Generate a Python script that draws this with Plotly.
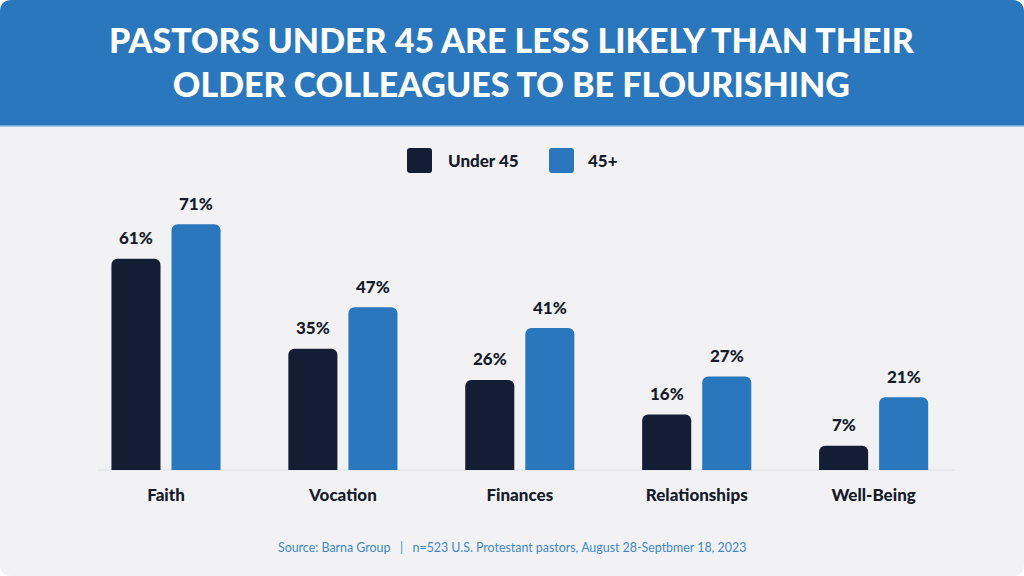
import plotly.graph_objects as go

# data
categories = ['Faith', 'Vocation', 'Finances', 'Relationships', 'Well-Being']
under_45 = [61, 35, 26, 16, 7]
over_45 = [71, 47, 41, 27, 21]
series_names = ['Under 45', '45+']

title_text = 'PASTORS UNDER 45 ARE LESS LIKELY THAN THEIR<br>OLDER COLLEAGUES TO BE FLOURISHING'
source_text = 'Source: Barna Group   |   n=523 U.S. Protestant pastors, August 28-Septbmer 18, 2023'

DARK = '#131d33'
BLUE = '#2a77bd'
TEXT = '#161b2b'
BG = '#f2f2f5'
FONT = 'Lato'

W, H = 1024, 576
# plot area in pixels
L, R, T, B = 97, 955, 193, 470


# convert pixel position to paper coordinates
def px(x):
    return (x - L) / (R - L)


def py(y):
    return (B - y) / (B - T)


def rounded_rect(x0, y0, x1, y1, r, top_only=False):
    # path in pixel coords, converted to paper
    def p(x, y):
        return f'{px(x)},{py(y)}'
    if top_only:
        return (f'M {p(x0, y1)} L {p(x0, y0 + r)} Q {p(x0, y0)} {p(x0 + r, y0)} '
                f'L {p(x1 - r, y0)} Q {p(x1, y0)} {p(x1, y0 + r)} L {p(x1, y1)} Z')
    return (f'M {p(x0 + r, y0)} L {p(x1 - r, y0)} Q {p(x1, y0)} {p(x1, y0 + r)} '
            f'L {p(x1, y1 - r)} Q {p(x1, y1)} {p(x1 - r, y1)} L {p(x0 + r, y1)} '
            f'Q {p(x0, y1)} {p(x0, y1 - r)} L {p(x0, y0 + r)} Q {p(x0, y0)} {p(x0 + r, y0)} Z')


fig = go.Figure()

fig.add_trace(go.Bar(x=categories, y=under_45, name=series_names[0],
                     marker=dict(color=DARK, cornerradius=6, line=dict(width=0)),
                     showlegend=False, hoverinfo='skip'))
fig.add_trace(go.Bar(x=categories, y=over_45, name=series_names[1],
                     marker=dict(color=BLUE, cornerradius=6, line=dict(width=0)),
                     showlegend=False, hoverinfo='skip'))

annotations = []
# value labels above the bars
for i, cat in enumerate(categories):
    for vals, shift in ((under_45, -30), (over_45, 30)):
        annotations.append(dict(x=i, y=vals[i], xref='x', yref='y', text=f'{vals[i]}%',
                                showarrow=False, xshift=shift, yshift=21,
                                font=dict(family=FONT, size=17, color=TEXT, weight=900)))

# title
annotations.append(dict(x=px(512), y=py(62), xref='paper', yref='paper', text=title_text,
                        showarrow=False, xanchor='center', yanchor='middle', align='center',
                        font=dict(family=FONT, size=34, color='white', weight=900)))

# legend drawn by hand (bigger swatches than plotly's)
annotations.append(dict(x=px(446), y=py(161), xref='paper', yref='paper', text=series_names[0],
                        showarrow=False, xanchor='left', yanchor='middle',
                        font=dict(family=FONT, size=17, color=TEXT, weight=900)))
annotations.append(dict(x=px(586), y=py(161), xref='paper', yref='paper', text=series_names[1],
                        showarrow=False, xanchor='left', yanchor='middle',
                        font=dict(family=FONT, size=17, color=TEXT, weight=900)))

# source line
annotations.append(dict(x=px(512), y=py(547), xref='paper', yref='paper', text=source_text,
                        showarrow=False, xanchor='center', yanchor='middle',
                        font=dict(family=FONT, size=12.4, color='#3f88c9')))

shapes = [
    dict(type='path', path=rounded_rect(0, 0, W, H, 12), xref='paper', yref='paper',
         fillcolor=BG, line=dict(width=0), layer='below'),
    dict(type='path', path=rounded_rect(0, 0, W, 126, 12, top_only=True), xref='paper', yref='paper',
         fillcolor=BLUE, line=dict(width=0), layer='below'),
    dict(type='line', x0=px(0), x1=px(W), y0=py(126), y1=py(126), xref='paper', yref='paper',
         line=dict(color='#8fb8df', width=1.5), layer='below'),
    dict(type='path', path=rounded_rect(407, 148, 432, 173, 3), xref='paper', yref='paper',
         fillcolor=DARK, line=dict(width=0)),
    dict(type='path', path=rounded_rect(549, 148, 574, 173, 3), xref='paper', yref='paper',
         fillcolor=BLUE, line=dict(width=0)),
    dict(type='line', x0=0, x1=1, y0=0, y1=0, xref='paper', yref='paper',
         line=dict(color='#dcdde2', width=1), layer='below'),
]

fig.update_layout(
    width=W, height=H,
    margin=dict(l=L, r=W - R, t=T, b=H - B, pad=0),
    paper_bgcolor='white',
    plot_bgcolor='rgba(0,0,0,0)',
    barmode='group',
    bargap=0.321,
    bargroupgap=0.183,
    xaxis=dict(range=[-0.39, 4.46], showgrid=False, showline=False, zeroline=False,
               ticks='', ticklabelstandoff=13,
               tickfont=dict(family=FONT, size=17, color=TEXT, weight=900)),
    yaxis=dict(range=[0, 80], visible=False, showgrid=False, zeroline=False),
    annotations=annotations,
    shapes=shapes,
)

# drop the default page margin so the figure sits at the window's top-left corner
fig.write_html('out.html', config={'displayModeBar': False},
               post_script="document.body.style.margin='0';")
